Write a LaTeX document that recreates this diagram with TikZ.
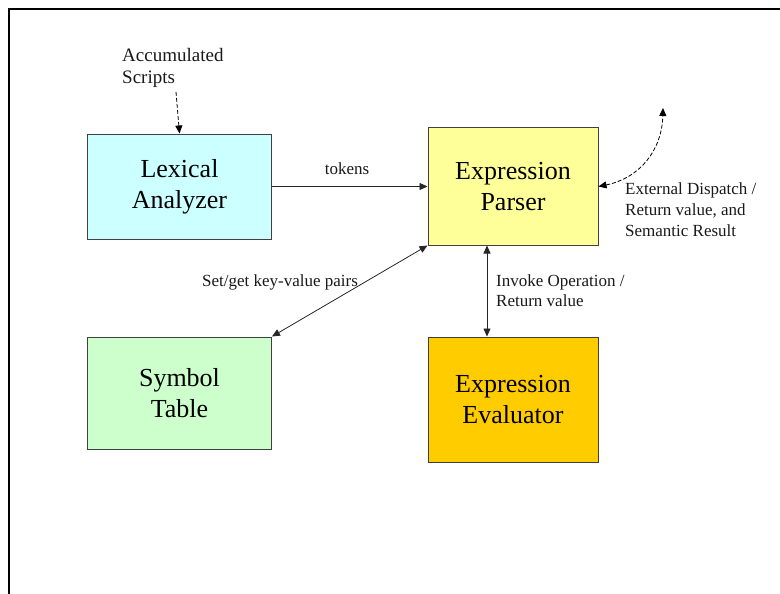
\documentclass[tikz,border=0pt]{standalone}
\usepackage{fontspec}
\setmainfont{Liberation Serif}
\usetikzlibrary{arrows.meta}
\definecolor{lexfill}{HTML}{CCFFFF}
\definecolor{parfill}{HTML}{FFFF99}
\definecolor{symfill}{HTML}{CCFFCC}
\definecolor{evafill}{HTML}{FFCC00}
\definecolor{boxline}{HTML}{404040}
\tikzset{
  blockbox/.style={draw=boxline, line width=1pt, align=center, inner sep=0pt,
    font=\fontsize{26}{31}\selectfont},
  conn/.style={draw=black!85, line width=0.8pt, -{Triangle[length=8pt,width=7pt]}},
  biconn/.style={draw=black!85, line width=0.8pt, {Triangle[length=8pt,width=7pt]}-{Triangle[length=8pt,width=7pt]}},
  dashconn/.style={draw=black, line width=0.8pt, dashed, dash pattern=on 4pt off 2pt},
  lbl/.style={inner sep=0pt, font=\fontsize{17}{21}\selectfont, text=black!90},
}
\begin{document}
\begin{tikzpicture}[x=1pt, y=-1pt]
\useasboundingbox (0,0) rectangle (780,594);
% frame
\draw[line width=2.6pt] (9,594) -- (9,9) -- (780,9);
% blocks
\node[blockbox, fill=lexfill, minimum width=184pt, minimum height=105pt] (lex) at (179.5,186.5) {Lexical\\Analyzer};
\node[blockbox, fill=parfill, minimum width=170pt, minimum height=117pt] (par) at (513,186.5) {Expression\\Parser};
\node[blockbox, fill=symfill, minimum width=184pt, minimum height=112pt] (sym) at (179.5,393) {Symbol\\Table};
\node[blockbox, fill=evafill, minimum width=170pt, minimum height=125pt] (eva) at (513,399.5) {Expression\\Evaluator};
% coordinates
\coordinate (acc) at (176,92);
\coordinate (ext) at (663,108);
\coordinate (inv) at (487,0);
% connectors
\draw[conn] (lex.east) -- (par.west);
\draw[biconn] (par.south west) -- (sym.north east);
\draw[biconn] (par.south -| inv) -- (eva.north -| inv);
\draw[dashconn, -{Triangle[length=8pt,width=7pt]}] (acc) -- (lex.north);
\draw[dashconn, {Triangle[length=8pt,width=7pt]}-{Triangle[length=8pt,width=7pt]}] (par.east) .. controls (640,178) and (662,150) .. (ext);
% labels
\node[lbl, anchor=base] (tok) at (347,175) {tokens};
\node[lbl, anchor=base] (setget) at (280,286) {Set/get key-value pairs};
\node[lbl, anchor=north west, align=left, font=\fontsize{17}{20}\selectfont] (invl) at (496,275) {Invoke Operation /\\Return value};
\node[lbl, anchor=north west, align=left] (extl) at (625,183) {External Dispatch /\\Return value, and\\Semantic Result};
\node[lbl, anchor=north west, align=left, font=\fontsize{19}{22}\selectfont] (accl) at (122,48) {Accumulated\\Scripts};
\end{tikzpicture}
\end{document}
